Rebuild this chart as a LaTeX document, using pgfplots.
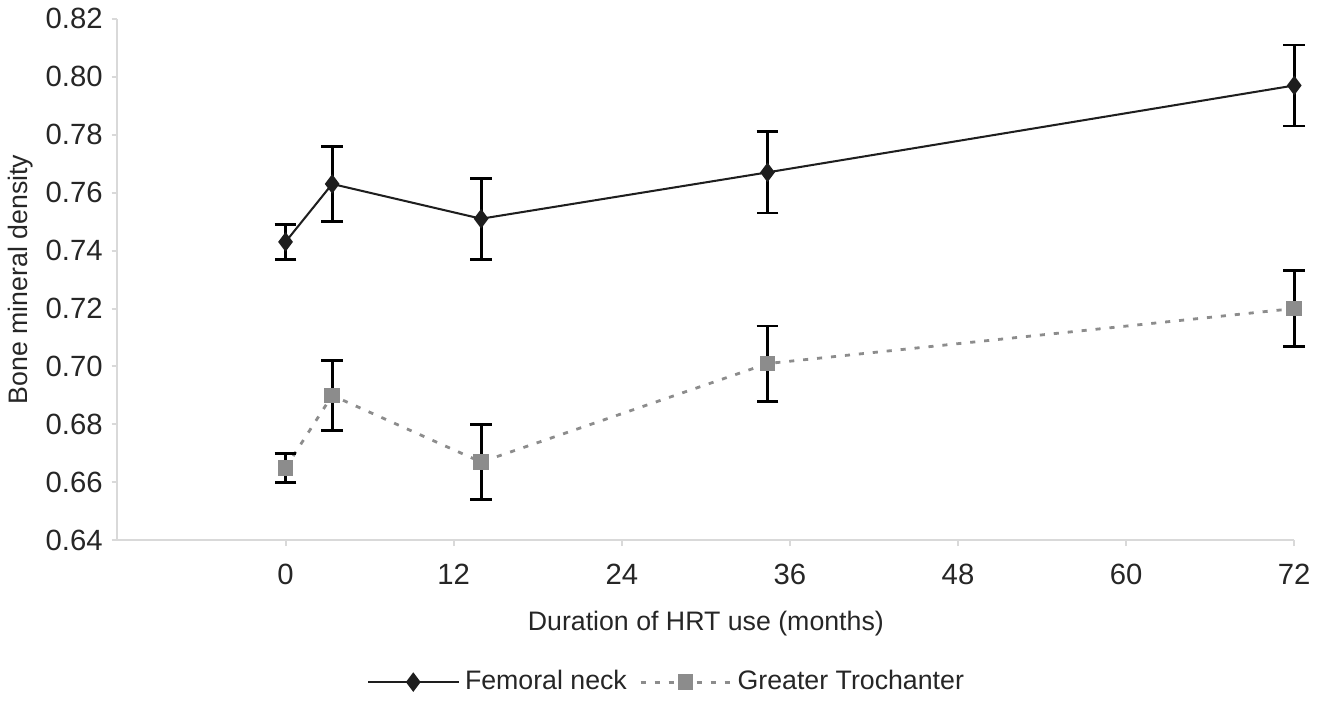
\documentclass[border=0pt]{standalone}
\usepackage{pgfplots}
\pgfplotsset{compat=1.18}
\usepackage{fontspec}
\setmainfont{Liberation Sans}
\definecolor{axgray}{HTML}{D9D9D9}
\definecolor{trogray}{HTML}{8C8C8C}
\definecolor{neckblk}{HTML}{1E1E1E}

\begin{document}
\begin{tikzpicture}
\begin{axis}[
  scale only axis, width=16.25cm, height=7.2cm,
  xmin=-12, xmax=72, ymin=0.64, ymax=0.82,
  xtick={0,12,...,72}, ytick={0.64,0.66,...,0.821},
  axis x line*=bottom, axis y line*=left,
  axis line style={axgray, line width=0.8pt, -},
  tick style={axgray, line width=0.8pt},
  tick align=outside, major tick length=0.08cm,
  /pgf/number format/assume math mode=true,
  yticklabel style={/pgf/number format/.cd, fixed, fixed zerofill, precision=2},
  ticklabel style={font=\fontsize{11.5}{13}\selectfont, text=black!85},
  xticklabel style={yshift=-0.12cm},
  xlabel={Duration of HRT use (months)},
  ylabel={Bone mineral density},
  label style={font=\fontsize{10.5}{12}\selectfont, text=black!85},
  xlabel style={at={(axis description cs:0.5,-0.16)}, anchor=center},
  ylabel style={at={(axis description cs:-0.082,0.5)}, anchor=center},
  legend columns=2,
  legend style={draw=none, at={(axis description cs:0.468,-0.272)}, anchor=center,
    font=\fontsize{10.5}{12}\selectfont, text=black!85,
    /tikz/every even column/.append style={column sep=0.1cm}},
  legend image code/.code={
    \draw[#1] (0cm,0cm) -- (1.25cm,0cm);
    \draw[#1, only marks] plot coordinates {(0.62cm,0cm)};
  },
  clip=false,
]
\addplot[neckblk, line width=0.8pt, mark=diamond*, mark size=3.2pt,
  mark options={fill=neckblk, draw=neckblk},
  error bars/.cd, y dir=both, y explicit,
  error bar style={black, line width=1.1pt, solid},
  error mark options={rotate=90, mark size=0.15cm, black, line width=1.1pt, solid}]
  table[x=x, y=y, y error=e] {
x     y      e
0     0.743  0.006
3.33  0.763  0.013
13.96 0.751  0.014
34.4  0.767  0.014
72    0.797  0.014
};
\addlegendentry{Femoral neck}
\addplot[trogray, line width=1.1pt, dash pattern=on 2pt off 3.5pt, mark=square*, mark size=2.5pt,
  mark options={solid, fill=trogray, draw=trogray},
  error bars/.cd, y dir=both, y explicit,
  error bar style={black, line width=1.1pt, solid},
  error mark options={rotate=90, mark size=0.15cm, black, line width=1.1pt, solid}]
  table[x=x, y=y, y error=e] {
x     y      e
0     0.665  0.005
3.33  0.690  0.012
13.96 0.667  0.013
34.4  0.701  0.013
72    0.720  0.013
};
\addlegendentry{Greater Trochanter}
\end{axis}
\end{tikzpicture}
\end{document}
